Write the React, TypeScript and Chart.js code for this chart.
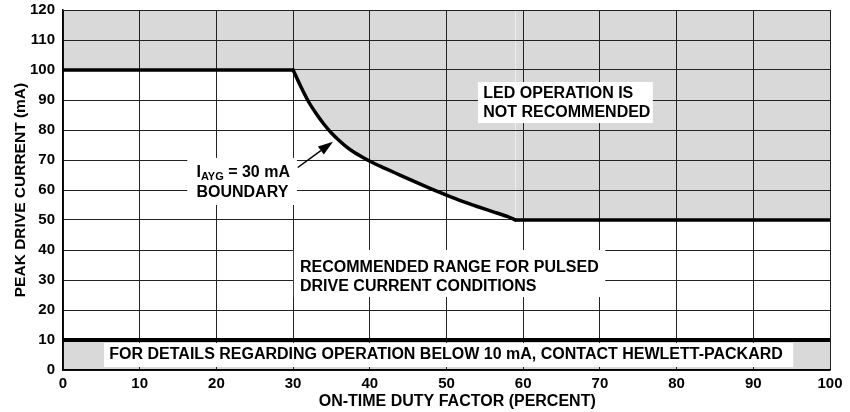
import React, { useEffect, useRef } from "react";
import { Chart, registerables } from "chart.js";

Chart.register(...registerables);

// ---- data ----
// flat 100 mA limit, curved IAVG = 30 mA boundary, flat 50 mA limit
const flatTopDuty = [0, 30];
const flatTopCurrent = [100, 100];
const boundaryDuty = [30, 31, 32, 33, 34, 35, 36, 37, 38, 39, 40, 42, 44, 46, 48, 50, 52, 54, 56, 58, 59];
const boundaryCurrent = [100, 94.5, 89.5, 85.5, 82, 79, 76.5, 74.3, 72.5, 71, 69.6, 67.2, 64.9, 62.6, 60.4, 58.3, 56.3, 54.5, 52.8, 51.1, 50];
const flatRightDuty = [59, 100];
const flatRightCurrent = [50, 50];
const lowerLimitDuty = [0, 100];
const lowerLimitCurrent = [10, 10];

const xMin = 0;
const xMax = 100;
const xStep = 10;
const yMin = 0;
const yMax = 120;
const yStep = 10;

const xTitle = "ON-TIME DUTY FACTOR (PERCENT)";
const yTitle = "PEAK DRIVE CURRENT (mA)";

type Seg = { t: string; sub?: boolean };
type Note = {
  box: [number, number, number, number]; // x0, x1, yTop, yBottom (data units)
  textX: number;
  lineY: number[];
  lines: (string | Seg[])[];
};

const notes: Note[] = [
  {
    box: [54.1, 76.9, 96, 82.3],
    textX: 54.8,
    lineY: [92, 85.8],
    lines: ["LED OPERATION IS", "NOT RECOMMENDED"],
  },
  {
    box: [16.2, 30.5, 70.7, 55],
    textX: 17.4,
    lineY: [65.8, 59.3],
    lines: [[{ t: "I" }, { t: "AYG", sub: true }, { t: " = 30 mA" }], "BOUNDARY"],
  },
  {
    box: [30.1, 70.7, 40, 24.3],
    textX: 30.9,
    lineY: [34.1, 27.8],
    lines: ["RECOMMENDED RANGE FOR PULSED", "DRIVE CURRENT CONDITIONS"],
  },
  {
    box: [5.35, 95.2, 9, 1],
    textX: 6.04,
    lineY: [5],
    lines: ["FOR DETAILS REGARDING OPERATION BELOW 10 mA, CONTACT HEWLETT-PACKARD"],
  },
];

const arrowFrom = [30.6, 67.5];
const arrowTo = [35.2, 76.1];
const xTitleCenter = 51.4;

const FONT = '"Liberation Sans", Arial, Helvetica, sans-serif';
const GREY = "#d9d9d9";

const notesPlugin = {
  id: "notesPlugin",
  afterDatasetsDraw(chart: any) {
    const { ctx, scales } = chart;
    const xs = scales.x;
    const ys = scales.y;
    ctx.save();
    ctx.textBaseline = "middle";
    ctx.textAlign = "left";
    for (const n of notes) {
      const l = xs.getPixelForValue(n.box[0]);
      const r = xs.getPixelForValue(n.box[1]);
      const t = ys.getPixelForValue(n.box[2]);
      const b = ys.getPixelForValue(n.box[3]);
      ctx.fillStyle = "#fff";
      ctx.fillRect(l, t, r - l, b - t);
      ctx.fillStyle = "#000";
      const tx = xs.getPixelForValue(n.textX);
      n.lines.forEach((line, i) => {
        const ty = ys.getPixelForValue(n.lineY[i]);
        if (typeof line === "string") {
          ctx.font = `bold 16px ${FONT}`;
          ctx.fillText(line, tx, ty);
        } else {
          let cx = tx;
          for (const s of line) {
            ctx.font = s.sub ? `bold 11px ${FONT}` : `bold 16px ${FONT}`;
            ctx.fillText(s.t, cx, s.sub ? ty + 4 : ty);
            cx += ctx.measureText(s.t).width;
          }
        }
      });
    }
    // arrow
    const ax0 = xs.getPixelForValue(arrowFrom[0]);
    const ay0 = ys.getPixelForValue(arrowFrom[1]);
    const ax1 = xs.getPixelForValue(arrowTo[0]);
    const ay1 = ys.getPixelForValue(arrowTo[1]);
    const ang = Math.atan2(ay1 - ay0, ax1 - ax0);
    const headLen = 15;
    const headHalf = 5;
    const bx = ax1 - headLen * Math.cos(ang);
    const by = ay1 - headLen * Math.sin(ang);
    ctx.strokeStyle = "#000";
    ctx.lineWidth = 1.5;
    ctx.beginPath();
    ctx.moveTo(ax0, ay0);
    ctx.lineTo(bx, by);
    ctx.stroke();
    ctx.beginPath();
    ctx.moveTo(ax1, ay1);
    ctx.lineTo(bx + headHalf * Math.sin(ang), by - headHalf * Math.cos(ang));
    ctx.lineTo(bx - headHalf * Math.sin(ang), by + headHalf * Math.cos(ang));
    ctx.closePath();
    ctx.fillStyle = "#000";
    ctx.fill();
    ctx.restore();
  },
  afterDraw(chart: any) {
    const { ctx, scales } = chart;
    ctx.save();
    ctx.font = `bold 16px ${FONT}`;
    ctx.fillStyle = "#000";
    ctx.textAlign = "center";
    ctx.textBaseline = "middle";
    ctx.fillText(xTitle, scales.x.getPixelForValue(xTitleCenter), 402);
    ctx.restore();
  },
};

const toPoints = (xs: number[], ys: number[]) => xs.map((d, i) => ({ x: d, y: ys[i] }));

const limitLine = (xs: number[], ys: number[], width: number, fill: string, smooth = false) => ({
  data: toPoints(xs, ys),
  borderColor: "#000",
  borderWidth: width,
  borderCapStyle: "round",
  borderJoinStyle: "round",
  pointRadius: 0,
  tension: 0,
  cubicInterpolationMode: smooth ? "monotone" : "default",
  fill,
  backgroundColor: GREY,
});

export default function App() {
  const ref = useRef<HTMLCanvasElement | null>(null);
  useEffect(() => {
    if (!ref.current) return;
    Chart.defaults.font.family = FONT;
    const chart = new Chart(ref.current, {
      type: "line",
      data: {
        datasets: [
          limitLine(flatTopDuty, flatTopCurrent, 3.5, "end"),
          limitLine(boundaryDuty, boundaryCurrent, 3.5, "end", true),
          limitLine(flatRightDuty, flatRightCurrent, 3.5, "end"),
          limitLine(lowerLimitDuty, lowerLimitCurrent, 4, "start"),
        ] as any,
      },
      options: {
        responsive: false,
        animation: false,
        devicePixelRatio: 1,
        layout: { padding: { top: 10, right: 20, left: 0, bottom: 0 } },
        plugins: {
          legend: { display: false },
          tooltip: { enabled: false },
          filler: { drawTime: "beforeDraw" },
        },
        scales: {
          x: {
            type: "linear",
            min: xMin,
            max: xMax,
            ticks: {
              stepSize: xStep,
              autoSkip: false,
              maxRotation: 0,
              color: "#000",
              padding: 5,
              font: { size: 15, weight: "bold" },
            },
            grid: { color: "#222", lineWidth: 1, drawTicks: false },
            border: { display: true, color: "#000", width: 1.5 },
            afterFit(scale: any) {
              scale.height = 42;
              scale.paddingLeft = 0;
              scale.paddingRight = 0;
            },
          },
          y: {
            type: "linear",
            min: yMin,
            max: yMax,
            ticks: {
              stepSize: yStep,
              autoSkip: false,
              color: "#000",
              padding: 8,
              font: { size: 15, weight: "bold" },
            },
            grid: { color: "#222", lineWidth: 1, drawTicks: false },
            border: { display: true, color: "#000", width: 1.5 },
            title: {
              display: true,
              text: yTitle,
              color: "#000",
              font: { size: 15.5, weight: "bold" },
              padding: { top: 11.5, bottom: 0 },
            },
            afterFit(scale: any) {
              scale.width = 63;
              scale.paddingTop = 0;
              scale.paddingBottom = 0;
            },
          },
        },
      } as any,
      plugins: [notesPlugin],
    });
    return () => chart.destroy();
  }, []);
  return (
    <div style={{ position: "absolute", left: 0, top: 0, width: 850, height: 412, background: "#fff" }}>
      <canvas ref={ref} width={850} height={412} style={{ display: "block" }} />
    </div>
  );
}
